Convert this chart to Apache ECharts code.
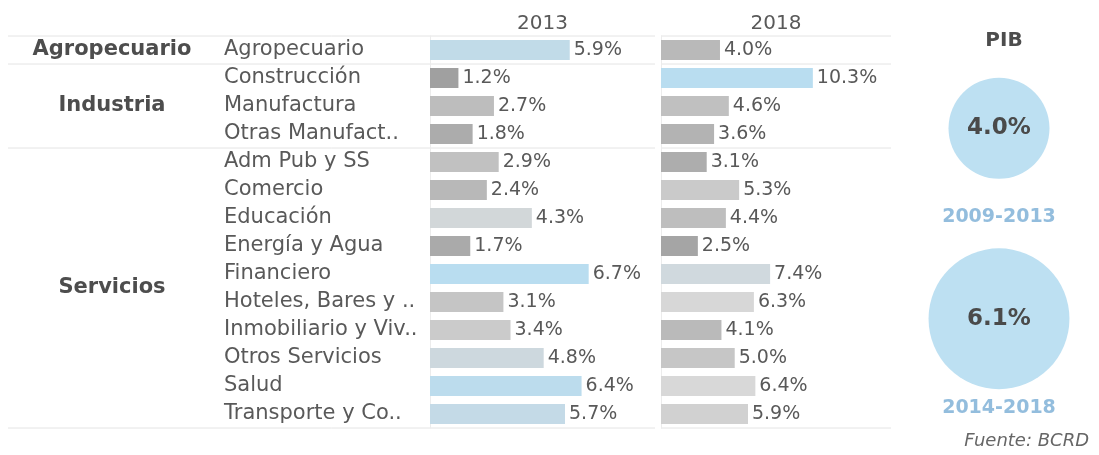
<!DOCTYPE html>
<html>
<head>
<meta charset="utf-8">
<script src="https://cdn.jsdelivr.net/npm/echarts@6/dist/echarts.min.js"></script>
<style>
  html, body { margin: 0; padding: 0; background: #fff; }
  #chart { width: 1099px; height: 455px; }
</style>
</head>
<body>
<div id="chart"></div>
<script>
// Crecimiento por sector, 2013 vs 2018 (Fuente: BCRD)
const sectors = [
    "Agropecuario", "Construcción", "Manufactura", "Otras Manufact..",
    "Adm Pub y SS", "Comercio", "Educación", "Energía y Agua", "Financiero",
    "Hoteles, Bares y ..", "Inmobiliario y Viv..", "Otros Servicios",
    "Salud", "Transporte y Co..",
];
const groups = ["Agropecuario", "Industria", "Servicios"];
const groupSizes = [1, 3, 10];
const years = ["2013", "2018"];
const growth2013 = [5.9, 1.2, 2.7, 1.8, 2.9, 2.4, 4.3, 1.7, 6.7, 3.1, 3.4, 4.8, 6.4, 5.7];
const growth2018 = [4.0, 10.3, 4.6, 3.6, 3.1, 5.3, 4.4, 2.5, 7.4, 6.3, 4.1, 5.0, 6.4, 5.9];
const pibPeriods = ["2009-2013", "2014-2018"];
const pibValues = [4.0, 6.1];

const FONT = "DejaVu Sans";
const TEXT = "#595959";
const LINE = "#e4e4e4";
const TOP = 36;
const ROW = 28;
const HEIGHT = ROW * sectors.length;

const chart = echarts.init(document.getElementById("chart"), null, { renderer: "canvas" });

const pct = (v) => v.toFixed(1) + "%";

function barSeries(idx, values) {
    return {
        type: "bar",
        xAxisIndex: idx,
        yAxisIndex: idx,
        barWidth: 20,
        data: values.map((v, i) => [v, sectors[i]]),
        label: {
            show: true,
            position: "right",
            distance: 4,
            color: TEXT,
            fontFamily: FONT,
            fontSize: 19,
            formatter: (p) => pct(p.value[0]),
        },
        silent: true,
    };
}

function valueAxis(idx, max) {
    return {
        type: "value",
        gridIndex: idx,
        min: 0,
        max,
        position: "top",
        name: years[idx],
        nameLocation: "middle",
        nameGap: 2,
        nameTextStyle: { color: TEXT, fontFamily: FONT, fontSize: 20, verticalAlign: "bottom" },
        axisLine: { show: false },
        axisTick: { show: false },
        axisLabel: { show: false },
        splitLine: { show: false },
    };
}

function categoryAxis(idx, showLabels) {
    return {
        type: "category",
        gridIndex: idx,
        data: sectors,
        inverse: true,
        axisLine: { show: true, lineStyle: { color: "#ececec" } },
        axisTick: { show: false },
        axisLabel: {
            show: showLabels,
            align: "left",
            margin: 206,
            color: TEXT,
            fontFamily: FONT,
            fontSize: 21,
        },
    };
}

// separators between groups + group labels on the left
const graphics = [];
let start = 0;
const boundaries = [0];
groups.forEach((g, k) => {
    const mid = TOP + ROW * (start + groupSizes[k] / 2);
    graphics.push({
        type: "text",
        x: 112,
        y: mid,
        style: {
            text: g,
            fill: "#4d4d4d",
            font: `bold 21px "${FONT}"`,
            textAlign: "center",
            textVerticalAlign: "middle",
        },
    });
    start += groupSizes[k];
    boundaries.push(start);
});
boundaries.forEach((b) => {
    const y = TOP + ROW * b;
    [[8, 655], [661, 891]].forEach(([x1, x2]) => {
        graphics.push({
            type: "line",
            shape: { x1, y1: y, x2, y2: y },
            style: { stroke: LINE, lineWidth: 1 },
            silent: true,
        });
    });
});

const option = {
    backgroundColor: "#fff",
    animation: false,
    title: [
        {
            text: "PIB",
            left: 999,
            top: 26,
            textAlign: "center",
            textStyle: { color: "#4d4d4d", fontFamily: FONT, fontSize: 20, fontWeight: "bold" },
        },
        {
            text: "Fuente: BCRD",
            right: 5,
            bottom: 0,
            textStyle: { color: "#666", fontFamily: FONT, fontSize: 18, fontStyle: "italic", fontWeight: "normal" },
        },
    ],
    grid: [
        { left: 430, top: TOP, width: 225, height: HEIGHT },
        { left: 661, top: TOP, width: 230, height: HEIGHT },
        { left: 939, top: 33, width: 120, height: 381 },
    ],
    xAxis: [
        valueAxis(0, 9.5),
        valueAxis(1, 15.6),
        { type: "category", gridIndex: 2, data: ["PIB"], show: false },
    ],
    yAxis: [
        categoryAxis(0, true),
        categoryAxis(1, false),
        { type: "category", gridIndex: 2, data: pibPeriods, inverse: true, show: false },
    ],
    visualMap: [
        {
            type: "continuous",
            show: false,
            seriesIndex: 0,
            dimension: 0,
            min: Math.min(...growth2013),
            max: Math.max(...growth2013),
            inRange: { color: ["#a0a0a0", "#d6d6d6", "#b9ddf0"] },
        },
        {
            type: "continuous",
            show: false,
            seriesIndex: 1,
            dimension: 0,
            min: Math.min(...growth2018),
            max: Math.max(...growth2018),
            inRange: { color: ["#a5a5a5", "#d8d8d8", "#b9ddf0"] },
        },
    ],
    graphic: graphics,
    series: [
        barSeries(0, growth2013),
        barSeries(1, growth2018),
        {
            type: "scatter",
            xAxisIndex: 2,
            yAxisIndex: 2,
            data: pibValues.map((v, i) => ["PIB", pibPeriods[i], v]),
            symbolSize: (val) => 25 + 19 * val[2],
            itemStyle: { color: "#bde0f2", opacity: 1 },
            label: {
                show: true,
                position: "inside",
                color: "#4a4a4a",
                fontFamily: FONT,
                fontSize: 23,
                fontWeight: "bold",
                formatter: (p) => pct(p.value[2]),
            },
            silent: true,
        },
        {
            type: "scatter",
            xAxisIndex: 2,
            yAxisIndex: 2,
            data: pibValues.map((v, i) => ["PIB", pibPeriods[i], v]),
            symbolSize: 0,
            label: {
                show: true,
                position: "inside",
                offset: [0, 89],
                color: "#78acd4",
                fontFamily: FONT,
                fontSize: 19,
                fontWeight: "bold",
                formatter: (p) => p.value[1],
            },
            silent: true,
        },
    ],
};

chart.setOption(option);
</script>
</body>
</html>
